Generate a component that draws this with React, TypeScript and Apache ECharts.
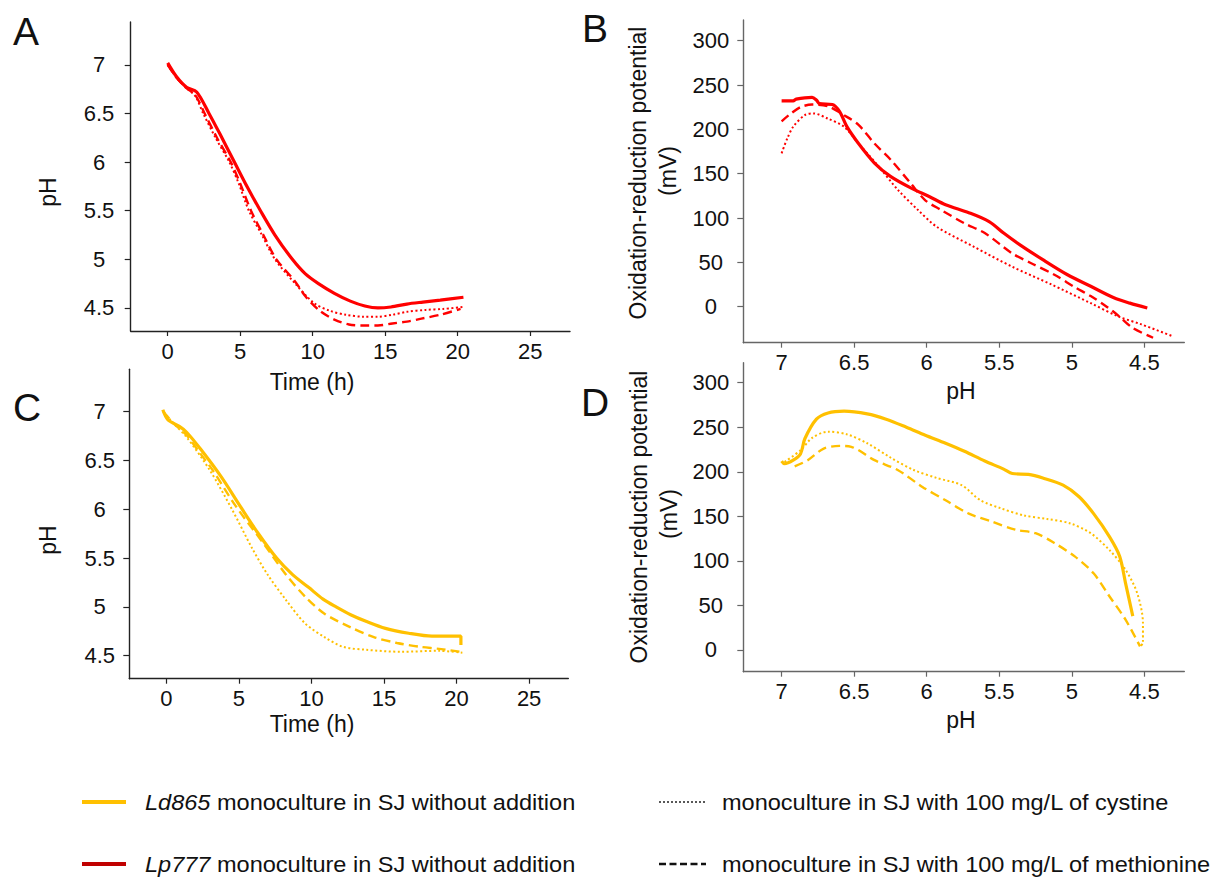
import React, { useEffect, useRef } from "react";
import * as echarts from "echarts";

// ---------- data ----------
const timeTicks = [0, 5, 10, 15, 20, 25];
const phTicks = [4.5, 5, 5.5, 6, 6.5, 7];
const phAxisTicks = [7, 6.5, 6, 5.5, 5, 4.5];
const orpTicks = [0, 50, 100, 150, 200, 250, 300];

// Panel A: Lp777, time (h) vs pH
const aSolid = [[0, 7.02], [0.6, 6.88], [1.3, 6.77], [2.0, 6.72], [2.85, 6.5], [3.6, 6.29], [4.6, 6.0], [5.5, 5.74], [6.4, 5.5], [7.4, 5.25], [8.6, 5.0], [9.5, 4.85], [10.4, 4.75], [11.5, 4.65], [12.6, 4.57], [13.6, 4.52], [14.5, 4.5], [15.4, 4.51], [16.5, 4.54], [17.6, 4.56], [18.8, 4.58], [20.4, 4.61]];
const aDotted = [[0, 7.0], [0.6, 6.87], [1.3, 6.76], [1.9, 6.68], [2.45, 6.5], [3.3, 6.25], [4.25, 6.0], [4.9, 5.78], [5.6, 5.5], [6.5, 5.25], [7.4, 5.0], [8.8, 4.75], [10.1, 4.55], [11.2, 4.47], [12.3, 4.43], [13.5, 4.41], [14.5, 4.41], [15.5, 4.43], [16.5, 4.46], [17.8, 4.48], [19.0, 4.49], [20.4, 4.51]];
const aDashed = [[0, 7.0], [0.6, 6.87], [1.3, 6.76], [1.9, 6.69], [2.55, 6.5], [3.4, 6.25], [4.35, 6.0], [5.0, 5.78], [5.75, 5.5], [6.6, 5.25], [7.5, 5.0], [8.8, 4.77], [9.5, 4.62], [10.5, 4.47], [11.5, 4.38], [12.5, 4.33], [13.5, 4.32], [14.5, 4.32], [15.5, 4.34], [16.5, 4.36], [17.5, 4.39], [18.8, 4.43], [20.2, 4.49]];

// Panel B: Lp777, pH vs ORP (mV)
const bSolid = [[7.0, 232], [6.92, 232], [6.9, 234], [6.79, 236], [6.76, 233], [6.74, 229], [6.65, 228], [6.6, 220], [6.55, 203], [6.47, 184], [6.36, 162], [6.25, 147], [6.11, 134], [5.98, 124], [5.87, 115], [5.71, 106], [5.57, 96], [5.47, 83], [5.36, 70], [5.2, 53], [5.03, 36], [4.87, 23], [4.71, 10], [4.6, 4], [4.48, -1.5]];
const bDotted = [[7.0, 173], [6.96, 190], [6.92, 203], [6.84, 216], [6.78, 218], [6.68, 212], [6.57, 203], [6.47, 184], [6.33, 158], [6.2, 132], [6.06, 109], [5.93, 90], [5.68, 68], [5.41, 45], [5.14, 25], [4.87, 4], [4.68, -11], [4.52, -20], [4.31, -33]];
const bDashed = [[7.0, 209], [6.95, 216], [6.87, 225], [6.79, 228], [6.68, 226], [6.57, 216], [6.47, 205], [6.36, 184], [6.25, 166], [6.11, 139], [6.01, 120], [5.9, 109], [5.74, 94], [5.6, 83], [5.41, 60], [5.28, 49], [5.12, 36], [4.98, 22], [4.87, 12], [4.76, 0], [4.68, -10], [4.58, -24], [4.44, -35]];

// Panel C: Ld865, time (h) vs pH
const cSolid = [[-0.24, 7.02], [0.1, 6.92], [0.9, 6.85], [1.4, 6.79], [2.4, 6.61], [3.8, 6.33], [5.1, 6.03], [6.3, 5.76], [7.6, 5.5], [8.7, 5.33], [9.8, 5.2], [10.8, 5.08], [11.7, 5.0], [12.7, 4.92], [13.8, 4.85], [15.1, 4.78], [16.7, 4.73], [18.3, 4.7], [20.3, 4.7], [20.3, 4.61]];
const cDotted = [[-0.2, 7.0], [0.5, 6.88], [1.4, 6.74], [3.0, 6.4], [4.56, 5.99], [5.88, 5.61], [6.94, 5.34], [8.25, 5.07], [9.57, 4.83], [10.9, 4.69], [12.2, 4.59], [13.8, 4.56], [16.2, 4.54], [18.8, 4.55], [20.4, 4.53]];
const cDashed = [[-0.2, 7.0], [0.5, 6.88], [1.4, 6.76], [2.2, 6.6], [3.2, 6.4], [4.8, 6.03], [6.7, 5.65], [8.25, 5.33], [9.6, 5.1], [10.9, 4.93], [12.7, 4.79], [14.3, 4.69], [15.9, 4.63], [17.5, 4.59], [18.8, 4.57], [20.25, 4.54]];

// Panel D: Ld865, pH vs ORP (mV)
const dSolid = [[7.0, 212], [6.98, 209], [6.92, 213], [6.87, 220], [6.84, 237], [6.76, 259], [6.68, 266], [6.57, 268], [6.41, 265], [6.28, 259], [6.14, 250], [6.01, 241], [5.87, 232], [5.74, 223], [5.6, 212], [5.47, 203], [5.41, 198], [5.3, 197], [5.2, 193], [5.06, 185], [4.95, 172], [4.85, 153], [4.74, 127], [4.67, 105], [4.63, 75], [4.58, 38]];
const dDotted = [[6.98, 211], [6.87, 224], [6.79, 238], [6.68, 245], [6.55, 242], [6.41, 232], [6.25, 216], [6.09, 202], [5.93, 193], [5.76, 185], [5.63, 168], [5.49, 159], [5.33, 151], [5.17, 147], [5.01, 142], [4.87, 131], [4.74, 112], [4.63, 90], [4.55, 64], [4.51, 30], [4.51, 8], [4.53, 4]];
const dDashed = [[6.91, 206], [6.82, 213], [6.71, 226], [6.6, 229], [6.52, 228], [6.36, 213], [6.2, 202], [6.03, 183], [5.87, 168], [5.71, 153], [5.55, 144], [5.39, 135], [5.25, 131], [5.12, 120], [4.98, 105], [4.85, 86], [4.74, 60], [4.63, 34], [4.53, 4]];

const legendItems = [
  { strain: "Ld865", text: " monoculture in SJ without addition" },
  { strain: "Lp777", text: " monoculture in SJ without addition" },
];
const legendStyles = [
  "monoculture in SJ with 100 mg/L of cystine",
  "monoculture in SJ with 100 mg/L of methionine",
];

// ---------- styles ----------
const FONT = '"Liberation Sans", Arial, Helvetica, sans-serif';
const RED = "#ff0000";
const GOLD = "#ffc000";
const TXT = "#111111";

const SOLID = { width: 3.2, type: "solid" as any };
const DASHED = { width: 2.4, type: [9, 5] as any };
const DOTTED = { width: 2, type: [2, 2.5] as any };

const ROW1 = 802;
const ROW2 = 864;
const LEG_SX = 1.07;

function xAxis(gridIndex: number, min: number, max: number, ticks: number[], inverse: boolean, axisColor: string) {
  return {
    type: "value",
    gridIndex,
    min,
    max,
    inverse,
    axisLine: { show: true, onZero: false, lineStyle: { color: axisColor, width: 1.4 } },
    axisTick: { show: true, customValues: ticks, length: 5, lineStyle: { color: axisColor, width: 1.2 } },
    axisLabel: { customValues: ticks, fontSize: 22, color: TXT, fontFamily: FONT, margin: 9 },
    splitLine: { show: false },
  };
}

function yAxis(gridIndex: number, min: number, max: number, ticks: number[], margin: number, axisColor: string) {
  return {
    type: "value",
    gridIndex,
    min,
    max,
    axisLine: { show: true, onZero: false, lineStyle: { color: axisColor, width: 1.4 } },
    axisTick: { show: true, customValues: ticks, length: 6, lineStyle: { color: axisColor, width: 1.2 } },
    axisLabel: { customValues: ticks, fontSize: 22, color: TXT, fontFamily: FONT, margin, align: "center" },
    splitLine: { show: false },
  };
}

function line(data: number[][], color: string, ls: any, idx: number) {
  return {
    type: "line",
    xAxisIndex: idx,
    yAxisIndex: idx,
    data,
    showSymbol: false,
    symbol: "none",
    smooth: 0.3,
    lineStyle: { color, width: ls.width, type: ls.type, cap: "butt" },
    z: ls === SOLID ? 3 : 2,
  };
}

function txt(text: string, x: number, y: number, size: number, extra: any = {}) {
  return {
    type: "text",
    x,
    y,
    rotation: extra.rotation || 0,
    scaleX: extra.scaleX || 1,
    style: {
      text,
      fontSize: size,
      fontFamily: FONT,
      fill: TXT,
      align: extra.align || "center",
      verticalAlign: "middle",
    },
  };
}

function buildOption() {
  const AX1 = "#222222";
  const AX2 = "#666666";
  const graphic: any[] = [
    // panel letters
    txt("A", 13, 31, 39, { align: "left" }),
    txt("B", 582, 28, 39, { align: "left" }),
    txt("C", 13, 407, 39, { align: "left" }),
    txt("D", 581, 402, 39, { align: "left" }),
    // axis names
    txt("Time (h)", 312, 382, 23),
    txt("Time (h)", 312, 724, 23),
    txt("pH", 48, 192, 23, { rotation: Math.PI / 2 }),
    txt("pH", 48, 540, 23, { rotation: Math.PI / 2 }),
    txt("pH", 961, 391, 23),
    txt("pH", 961, 720, 23),
    txt("Oxidation-reduction potential", 638, 173, 23, { rotation: Math.PI / 2 }),
    txt("(mV)", 668, 171, 23, { rotation: Math.PI / 2 }),
    txt("Oxidation-reduction potential", 639, 517, 23, { rotation: Math.PI / 2 }),
    txt("(mV)", 669, 514, 23, { rotation: Math.PI / 2 }),
    // legend samples
    { type: "line", shape: { x1: 82, y1: ROW1, x2: 126, y2: ROW1 }, style: { stroke: GOLD, lineWidth: 4 } },
    { type: "line", shape: { x1: 82, y1: ROW2, x2: 126, y2: ROW2 }, style: { stroke: "#c00000", lineWidth: 4 } },
    { type: "line", shape: { x1: 659, y1: ROW1, x2: 706, y2: ROW1 }, style: { stroke: "#222", lineWidth: 1.6, lineDash: [2, 2] } },
    { type: "line", shape: { x1: 659, y1: ROW2, x2: 706, y2: ROW2 }, style: { stroke: "#111", lineWidth: 2.4, lineDash: [7, 3.5] } },
  ];
  legendItems.forEach((it, i) => {
    graphic.push({
      type: "text",
      x: 145,
      y: i === 0 ? ROW1 : ROW2,
      scaleX: LEG_SX,
      style: {
        text: "{i|" + it.strain + "}" + it.text,
        fontSize: 22,
        fontFamily: FONT,
        fill: TXT,
        align: "left",
        verticalAlign: "middle",
        rich: { i: { fontStyle: "italic", fontSize: 22, fontFamily: FONT, fill: TXT } },
      },
    });
  });
  legendStyles.forEach((t, i) => {
    graphic.push(txt(t, 722, i === 0 ? ROW1 : ROW2, 22, { align: "left", scaleX: LEG_SX }));
  });

  return {
    animation: false,
    backgroundColor: "#ffffff",
    grid: [
      { left: 130.7, top: 22, width: 439.3, height: 309 },
      { left: 743.3, top: 20, width: 441, height: 322.7 },
      { left: 129.3, top: 369.3, width: 439, height: 309.4 },
      { left: 743.3, top: 362.7, width: 441, height: 309 },
    ],
    xAxis: [
      xAxis(0, -2.55, 27.75, timeTicks, false, AX1),
      xAxis(1, 4.225, 7.264, phAxisTicks, true, AX2),
      xAxis(2, -2.55, 27.7, timeTicks, false, AX1),
      xAxis(3, 4.225, 7.264, phAxisTicks, true, AX2),
    ],
    yAxis: [
      yAxis(0, 4.263, 7.44, phTicks, 31.7, AX1),
      yAxis(1, -40.6, 323.3, orpTicks, 32.5, AX2),
      yAxis(2, 4.264, 7.435, phTicks, 29.6, AX1),
      yAxis(3, -24.4, 322.4, orpTicks, 32.5, AX2),
    ],
    series: [
      line(aDotted, RED, DOTTED, 0),
      line(aDashed, RED, DASHED, 0),
      line(aSolid, RED, SOLID, 0),
      line(bDotted, RED, DOTTED, 1),
      line(bDashed, RED, DASHED, 1),
      line(bSolid, RED, SOLID, 1),
      line(cDotted, GOLD, DOTTED, 2),
      line(cDashed, GOLD, DASHED, 2),
      line(cSolid, GOLD, SOLID, 2),
      line(dDotted, GOLD, DOTTED, 3),
      line(dDashed, GOLD, DASHED, 3),
      line(dSolid, GOLD, SOLID, 3),
    ],
    graphic,
  };
}

export default function App() {
  const ref = useRef<HTMLDivElement>(null);
  useEffect(() => {
    if (!ref.current) return;
    const chart = echarts.init(ref.current, null, { renderer: "svg" });
    chart.setOption(buildOption() as any);
    return () => chart.dispose();
  }, []);
  return (
    <div
      ref={ref}
      style={{ position: "absolute", left: 0, top: 0, width: 1213, height: 879, background: "#fff" }}
    />
  );
}
